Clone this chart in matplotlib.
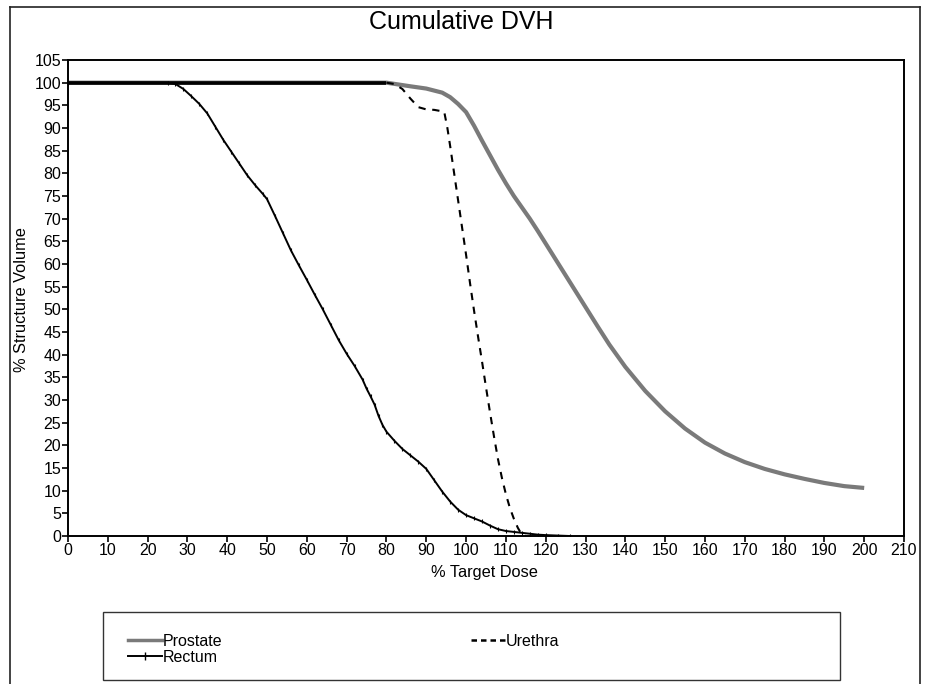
import matplotlib
matplotlib.use("Agg")
import matplotlib.pyplot as plt
from matplotlib.lines import Line2D
from matplotlib.patches import Rectangle

plt.rcParams['font.family'] = ['Liberation Sans', 'DejaVu Sans']

# ---- data ----
prostate_dose = [0, 80, 83, 86, 90, 94, 96, 98, 100, 102, 104, 106, 108, 110, 112, 114, 116, 118,
                 120, 122, 125, 128, 130, 133, 136, 140, 145, 150, 155, 160, 165, 170, 175, 180,
                 185, 190, 195, 200]
prostate_vol = [100, 100, 99.6, 99.2, 98.7, 97.8, 96.8, 95.3, 93.5, 90.5, 87.2, 84, 80.8, 77.8,
                75, 72.5, 70, 67.3, 64.5, 61.7, 57.5, 53.3, 50.5, 46.3, 42.2, 37.3, 32, 27.5,
                23.7, 20.6, 18.2, 16.3, 14.8, 13.6, 12.6, 11.7, 11, 10.6]

urethra_dose = [0, 80, 82, 84, 86, 88, 90, 92, 94.5, 95.3, 96, 97, 98, 99, 100, 101, 102, 103,
                104, 105, 106, 107, 108, 109, 110, 111, 112, 113, 114, 115]
urethra_vol = [100, 100, 99.7, 98.6, 96.5, 94.6, 94.1, 94, 93.6, 90, 86, 80, 74, 68, 62, 55.7,
               49.7, 44, 38.5, 32.8, 27.3, 22, 17, 12.8, 9.2, 6.2, 3.8, 1.8, 0.3, 0]

rectum_dose = [0, 25, 27, 29, 31, 33, 35, 37, 39, 41, 43, 45, 47, 49, 50, 52, 54, 56, 58, 60, 62,
               64, 66, 68, 70, 72, 74, 75, 76, 77, 78, 79, 80, 82, 84, 86, 88, 90, 92, 94, 96,
               98, 100, 102, 104, 106, 108, 110, 112, 114, 116, 118, 120, 123, 126]
rectum_vol = [100, 100, 99.7, 98.6, 97, 95.3, 93.2, 90.3, 87.4, 84.8, 82.2, 79.6, 77.4, 75.4,
              74.3, 70.6, 66.8, 63, 59.7, 56.5, 53.2, 50, 46.6, 43.2, 40.2, 37.5, 34.5, 32.5,
              30.8, 29, 26.5, 24.5, 23, 21, 19.2, 17.8, 16.4, 14.8, 12.3, 9.8, 7.6, 5.8, 4.6,
              3.9, 3.2, 2.3, 1.5, 1.1, 0.9, 0.7, 0.5, 0.3, 0.2, 0.1, 0]

x_ticks = list(range(0, 211, 10))
y_ticks = list(range(0, 106, 5))

W, H = 929, 684
fig = plt.figure(figsize=(W / 100, H / 100), dpi=100)
fig.patch.set_facecolor('white')


def fx(px):
    return px / W


def fy(py):
    return 1 - py / H


# outer frame
for (x0, y0, x1, y1) in [(10, 7, 920, 7), (10, 7, 10, 690), (920, 7, 920, 690)]:
    fig.add_artist(Line2D([fx(x0), fx(x1)], [fy(y0), fy(y1)], color='#222222', lw=1.2))

ax = fig.add_axes([fx(68), fy(536), fx(904) - fx(68), fy(60) - fy(536)])

ax.plot(prostate_dose, prostate_vol, color='#7a7a7a', lw=3.0, solid_capstyle='butt', zorder=2)
ax.plot(rectum_dose, rectum_vol, color='black', lw=1.4, marker='|', markersize=3,
        markeredgewidth=0.8, zorder=3)
# plateau of urethra merges into one solid line with the others at 100 %
ax.plot(urethra_dose[:2], urethra_vol[:2], color='black', lw=2.6, zorder=5,
        solid_capstyle='butt')
ax.plot(urethra_dose[1:], urethra_vol[1:], color='black', lw=1.5, linestyle=(0, (3.5, 3.2)),
        zorder=4)

ax.set_xlim(0, 210)
ax.set_ylim(0, 105)
ax.set_xticks(x_ticks)
ax.set_yticks(y_ticks)
ax.tick_params(axis='both', direction='out', length=4, width=1.2, labelsize=11.5,
               colors='black', pad=1)
for s in ax.spines.values():
    s.set_linewidth(1.4)
    s.set_color('black')

fig.text(fx(461), fy(22), 'Cumulative DVH', ha='center', va='center', fontsize=18)
fig.text(fx(484), fy(573), '% Target Dose', ha='center', va='center', fontsize=11.8)
fig.text(fx(22), fy(300), '% Structure Volume', ha='center', va='center', fontsize=11.8,
         rotation=90)

# legend box
fig.add_artist(Rectangle((fx(103), fy(680)), fx(840) - fx(103), fy(612) - fy(680),
                         transform=fig.transFigure, fill=False, edgecolor='#333333', lw=1.0))

h_p = Line2D([], [], color='#7a7a7a', lw=2.5)
h_r = Line2D([0, 0.5, 1], [0, 0, 0], color='black', lw=1.4, marker='|', markersize=6,
             markeredgewidth=1.0, markevery=[1])
h_u = Line2D([], [], color='black', lw=1.8, linestyle=(0, (2.2, 1.6)))

leg_kw = dict(frameon=False, fontsize=11.5, handlelength=2.1, handletextpad=0.05,
              labelspacing=0.05, borderpad=0, borderaxespad=0, loc='upper left')
fig.legend([h_p, h_r], ['Prostate', 'Rectum'], bbox_to_anchor=(fx(128), fy(634)), **leg_kw)
fig.legend([h_u], ['Urethra'], bbox_to_anchor=(fx(471), fy(634)), **leg_kw)

fig.savefig('out.png', dpi=100, facecolor='white')
